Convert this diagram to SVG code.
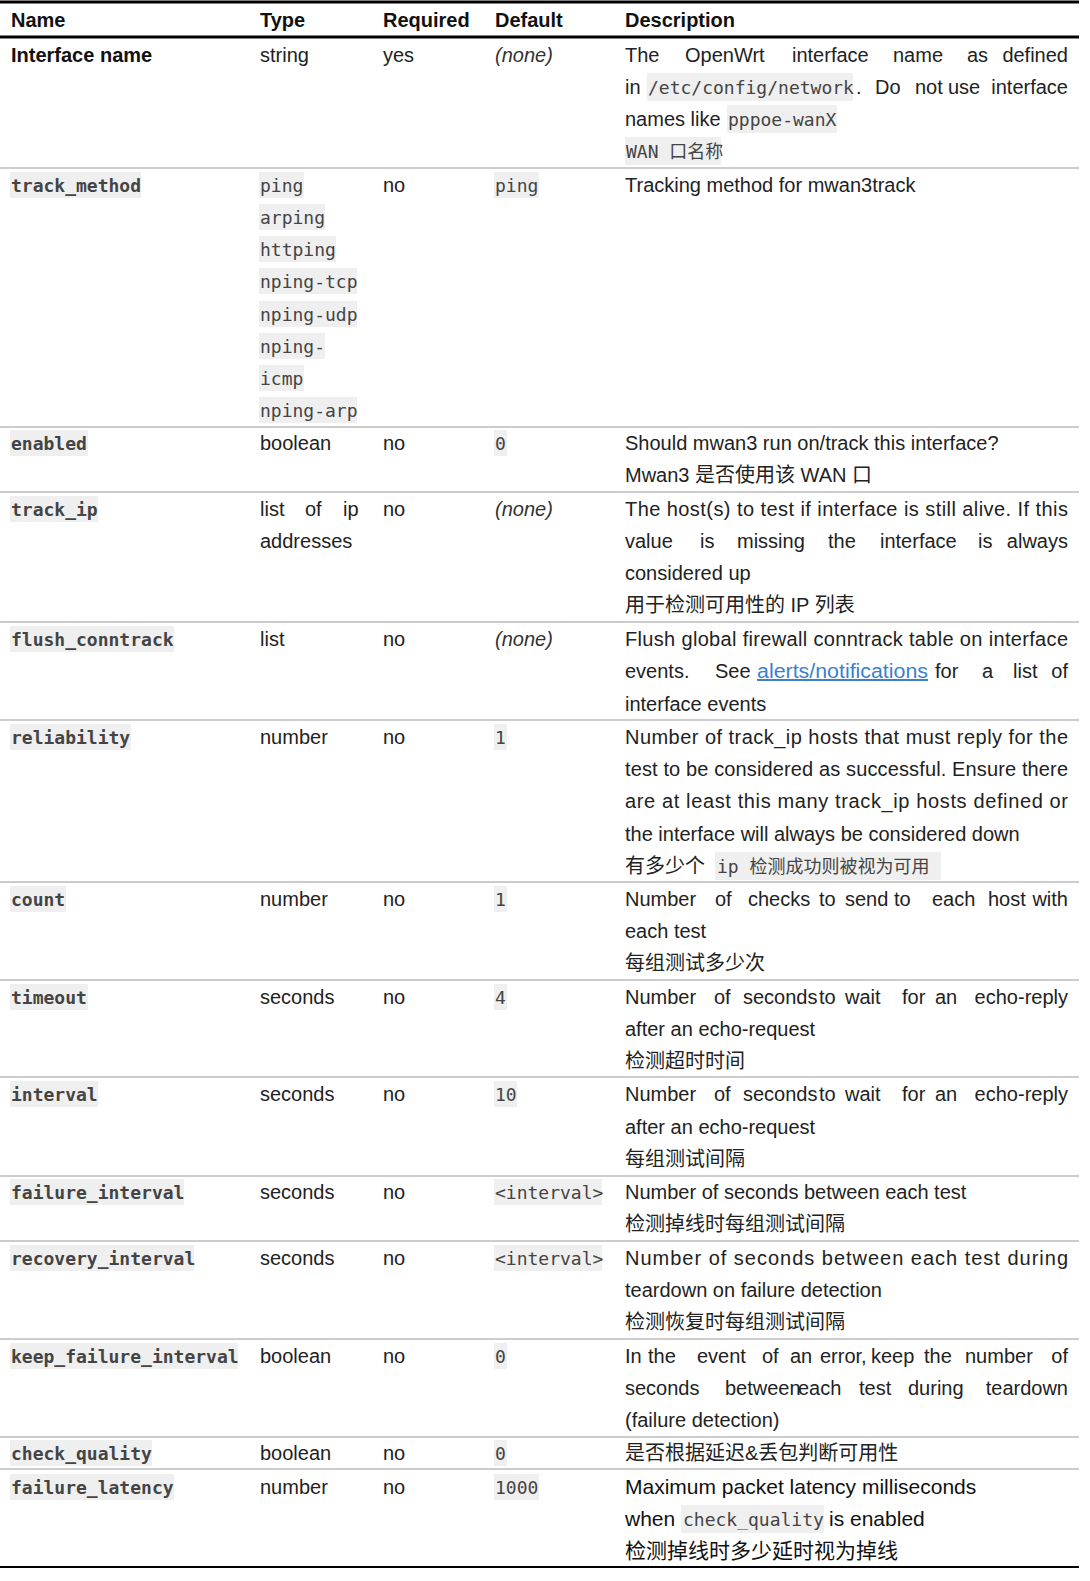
<svg xmlns="http://www.w3.org/2000/svg" width="1090" height="1581" viewBox="0 0 1090 1581">
<style>
text{font-family:"Liberation Sans","Noto Sans CJK SC",sans-serif;font-size:20px;fill:#222}
.h{font-weight:bold;font-size:20px;fill:#111}
.b{font-weight:bold;fill:#111}
.i{font-style:italic;fill:#333}
.e{text-anchor:end}
.c{font-family:"DejaVu Sans Mono","Liberation Mono","Noto Sans CJK SC",monospace;font-size:18px;fill:#444}
.cb{font-family:"DejaVu Sans Mono","Liberation Mono",monospace;font-size:18px;fill:#444;font-weight:bold}
.chip{fill:#efefef}
.sep{stroke:#999;stroke-width:1}
.lk{fill:#3b7fd0;text-decoration:underline}
.fl{fill:#111;font-size:21px}
</style>
<rect width="1090" height="1581" fill="#fff"/>
<g id="grid">
<line x1="0" y1="2" x2="1079" y2="2" stroke="#000" stroke-width="3"/>
<line x1="0" y1="37" x2="1079" y2="37" stroke="#000" stroke-width="3"/>
<line class="sep" x1="0" y1="168" x2="1079" y2="168"/>
<line class="sep" x1="0" y1="427" x2="1079" y2="427"/>
<line class="sep" x1="0" y1="492" x2="1079" y2="492"/>
<line class="sep" x1="0" y1="622" x2="1079" y2="622"/>
<line class="sep" x1="0" y1="720" x2="1079" y2="720"/>
<line class="sep" x1="0" y1="882" x2="1079" y2="882"/>
<line class="sep" x1="0" y1="980" x2="1079" y2="980"/>
<line class="sep" x1="0" y1="1077" x2="1079" y2="1077"/>
<line class="sep" x1="0" y1="1176" x2="1079" y2="1176"/>
<line class="sep" x1="0" y1="1241" x2="1079" y2="1241"/>
<line class="sep" x1="0" y1="1339" x2="1079" y2="1339"/>
<line class="sep" x1="0" y1="1437" x2="1079" y2="1437"/>
<line class="sep" x1="0" y1="1469" x2="1079" y2="1469"/>
<line x1="0" y1="1567" x2="1079" y2="1567" stroke="#000" stroke-width="2"/>
</g>
<g id="header">
<text class="h" x="11" y="27">Name</text>
<text class="h" x="260" y="27">Type</text>
<text class="h" x="383" y="27">Required</text>
<text class="h" x="495" y="27">Default</text>
<text class="h" x="625" y="27">Description</text>
</g>
<g id="row-interface">
<text class="b" x="11" y="62">Interface name</text>
<text x="260" y="62">string</text>
<text x="383" y="62">yes</text>
<text class="i" x="495" y="62">(none)</text>
<text x="625" y="62">The</text><text x="685" y="62">OpenWrt</text><text x="792" y="62">interface</text><text x="893" y="62">name</text><text x="967" y="62">as</text><text class="e" x="1068" y="62">defined</text>
<text x="625" y="94">in</text>
<rect class="chip" x="647" y="73" width="206" height="28"/>
<text class="c" x="648" y="94">/etc/config/network</text>
<text x="856" y="94">.</text><text x="875" y="94">Do</text><text x="915" y="94">not</text><text x="948" y="94">use</text><text class="e" x="1068" y="94">interface</text>
<text x="625" y="126">names like</text>
<rect class="chip" x="727" y="105" width="110" height="28"/>
<text class="c" x="728" y="126">pppoe-wanX</text>
<rect class="chip" x="625" y="137" width="96" height="28"/>
<text class="c" x="626" y="158">WAN 口名称</text>
</g>
<g id="row-track_method">
<rect class="chip" x="10" y="172" width="131" height="26"/><text class="cb" x="11" y="192">track_method</text>
<rect class="chip" x="259" y="172" width="45" height="26"/><text class="c" x="260" y="192">ping</text>
<rect class="chip" x="259" y="204" width="66" height="26"/><text class="c" x="260" y="224">arping</text>
<rect class="chip" x="259" y="236" width="77" height="26"/><text class="c" x="260" y="256">httping</text>
<rect class="chip" x="259" y="268" width="98" height="26"/><text class="c" x="260" y="288">nping-tcp</text>
<rect class="chip" x="259" y="301" width="98" height="26"/><text class="c" x="260" y="321">nping-udp</text>
<rect class="chip" x="259" y="333" width="66" height="26"/><text class="c" x="260" y="353">nping-</text>
<rect class="chip" x="259" y="365" width="45" height="26"/><text class="c" x="260" y="385">icmp</text>
<rect class="chip" x="259" y="397" width="98" height="26"/><text class="c" x="260" y="417">nping-arp</text>
<text x="383" y="192">no</text>
<rect class="chip" x="494" y="172" width="45" height="26"/><text class="c" x="495" y="192">ping</text>
<text x="625" y="192">Tracking method for mwan3track</text>
</g>
<g id="row-enabled">
<rect class="chip" x="10" y="430" width="78" height="26"/><text class="cb" x="11" y="450">enabled</text>
<text x="260" y="450">boolean</text>
<text x="383" y="450">no</text>
<rect class="chip" x="494" y="430" width="13" height="26"/><text class="c" x="495" y="450">0</text>
<text x="625" y="450">Should mwan3 run on/track this interface?</text>
<text x="625" y="482">Mwan3 是否使用该 WAN 口</text>
</g>
<g id="row-track_ip">
<rect class="chip" x="10" y="496" width="88" height="26"/><text class="cb" x="11" y="516">track_ip</text>
<text x="260" y="516">list</text><text x="305" y="516">of</text><text x="343" y="516">ip</text>
<text x="260" y="548">addresses</text>
<text x="383" y="516">no</text>
<text class="i" x="495" y="516">(none)</text>
<text x="625" y="516" textLength="443" lengthAdjust="spacing">The host(s) to test if interface is still alive. If this</text>
<text x="625" y="548">value</text><text x="700" y="548">is</text><text x="737" y="548">missing</text><text x="828" y="548">the</text><text x="880" y="548">interface</text><text x="978" y="548">is</text><text class="e" x="1068" y="548">always</text>
<text x="625" y="580">considered up</text>
<text x="625" y="612">用于检测可用性的 IP 列表</text>
</g>
<g id="row-flush_conntrack">
<rect class="chip" x="10" y="626" width="164" height="26"/><text class="cb" x="11" y="646">flush_conntrack</text>
<text x="260" y="646">list</text>
<text x="383" y="646">no</text>
<text class="i" x="495" y="646">(none)</text>
<text x="625" y="646" textLength="443" lengthAdjust="spacing">Flush global firewall conntrack table on interface</text>
<text x="625" y="678">events.</text><text x="715" y="678">See</text>
<text class="lk" x="757" y="678" textLength="171" lengthAdjust="spacingAndGlyphs">alerts/notifications</text>
<text x="935" y="678">for</text><text x="982" y="678">a</text><text x="1013" y="678">list</text><text class="e" x="1068" y="678">of</text>
<text x="625" y="711">interface events</text>
</g>
<g id="row-reliability">
<rect class="chip" x="10" y="724" width="121" height="26"/><text class="cb" x="11" y="744">reliability</text>
<text x="260" y="744">number</text>
<text x="383" y="744">no</text>
<rect class="chip" x="494" y="724" width="13" height="26"/><text class="c" x="495" y="744">1</text>
<text x="625" y="744" textLength="443" lengthAdjust="spacing">Number of track_ip hosts that must reply for the</text>
<text x="625" y="776" textLength="443" lengthAdjust="spacing">test to be considered as successful. Ensure there</text>
<text x="625" y="808" textLength="443" lengthAdjust="spacing">are at least this many track_ip hosts defined or</text>
<text x="625" y="841">the interface will always be considered down</text>
<text x="625" y="873">有多少个</text>
<rect class="chip" x="715" y="852" width="226" height="28"/>
<text class="c" x="717" y="873">ip 检测成功则被视为可用</text>
</g>
<g id="row-count">
<rect class="chip" x="10" y="886" width="56" height="26"/><text class="cb" x="11" y="906">count</text>
<text x="260" y="906">number</text>
<text x="383" y="906">no</text>
<rect class="chip" x="494" y="886" width="13" height="26"/><text class="c" x="495" y="906">1</text>
<text x="625" y="906">Number</text><text x="715" y="906">of</text><text x="748" y="906">checks</text><text x="819" y="906">to</text><text x="845" y="906">send</text><text x="894" y="906">to</text><text x="932" y="906">each</text><text x="988" y="906">host</text><text class="e" x="1068" y="906">with</text>
<text x="625" y="938">each test</text>
<text x="625" y="970">每组测试多少次</text>
</g>
<g id="row-timeout">
<rect class="chip" x="10" y="984" width="78" height="26"/><text class="cb" x="11" y="1004">timeout</text>
<text x="260" y="1004">seconds</text>
<text x="383" y="1004">no</text>
<rect class="chip" x="494" y="984" width="13" height="26"/><text class="c" x="495" y="1004">4</text>
<text x="625" y="1004">Number</text><text x="714" y="1004">of</text><text x="743" y="1004">seconds</text><text x="819" y="1004">to</text><text x="845" y="1004">wait</text><text x="902" y="1004">for</text><text x="935" y="1004">an</text><text class="e" x="1068" y="1004">echo-reply</text>
<text x="625" y="1036">after an echo-request</text>
<text x="625" y="1068">检测超时时间</text>
</g>
<g id="row-interval">
<rect class="chip" x="10" y="1081" width="88" height="26"/><text class="cb" x="11" y="1101">interval</text>
<text x="260" y="1101">seconds</text>
<text x="383" y="1101">no</text>
<rect class="chip" x="494" y="1081" width="23" height="26"/><text class="c" x="495" y="1101">10</text>
<text x="625" y="1101">Number</text><text x="714" y="1101">of</text><text x="743" y="1101">seconds</text><text x="819" y="1101">to</text><text x="845" y="1101">wait</text><text x="902" y="1101">for</text><text x="935" y="1101">an</text><text class="e" x="1068" y="1101">echo-reply</text>
<text x="625" y="1134">after an echo-request</text>
<text x="625" y="1166">每组测试间隔</text>
</g>
<g id="row-failure_interval">
<rect class="chip" x="10" y="1179" width="174" height="26"/><text class="cb" x="11" y="1199">failure_interval</text>
<text x="260" y="1199">seconds</text>
<text x="383" y="1199">no</text>
<rect class="chip" x="494" y="1179" width="108" height="26"/><text class="c" x="495" y="1199">&lt;interval&gt;</text>
<text x="625" y="1199">Number of seconds between each test</text>
<text x="625" y="1231">检测掉线时每组测试间隔</text>
</g>
<g id="row-recovery_interval">
<rect class="chip" x="10" y="1245" width="184" height="26"/><text class="cb" x="11" y="1265">recovery_interval</text>
<text x="260" y="1265">seconds</text>
<text x="383" y="1265">no</text>
<rect class="chip" x="494" y="1245" width="108" height="26"/><text class="c" x="495" y="1265">&lt;interval&gt;</text>
<text x="625" y="1265" textLength="443" lengthAdjust="spacing">Number of seconds between each test during</text>
<text x="625" y="1297">teardown on failure detection</text>
<text x="625" y="1329">检测恢复时每组测试间隔</text>
</g>
<g id="row-keep_failure_interval">
<rect class="chip" x="10" y="1343" width="228" height="26"/><text class="cb" x="11" y="1363">keep_failure_interval</text>
<text x="260" y="1363">boolean</text>
<text x="383" y="1363">no</text>
<rect class="chip" x="494" y="1343" width="13" height="26"/><text class="c" x="495" y="1363">0</text>
<text x="625" y="1363">In</text><text x="648" y="1363">the</text><text x="697" y="1363">event</text><text x="762" y="1363">of</text><text x="790" y="1363">an</text><text x="820" y="1363">error,</text><text x="871" y="1363">keep</text><text x="924" y="1363">the</text><text x="965" y="1363">number</text><text class="e" x="1068" y="1363">of</text>
<text x="625" y="1395">seconds</text><text x="725" y="1395">between</text><text x="798" y="1395">each</text><text x="859" y="1395">test</text><text x="908" y="1395">during</text><text class="e" x="1068" y="1395">teardown</text>
<text x="625" y="1427">(failure detection)</text>
</g>
<g id="row-check_quality">
<rect class="chip" x="10" y="1440" width="142" height="26"/><text class="cb" x="11" y="1460">check_quality</text>
<text x="260" y="1460">boolean</text>
<text x="383" y="1460">no</text>
<rect class="chip" x="494" y="1440" width="13" height="26"/><text class="c" x="495" y="1460">0</text>
<text x="625" y="1460">是否根据延迟&amp;丢包判断可用性</text>
</g>
<g id="row-failure_latency">
<rect class="chip" x="10" y="1474" width="164" height="26"/><text class="cb" x="11" y="1494">failure_latency</text>
<text x="260" y="1494">number</text>
<text x="383" y="1494">no</text>
<rect class="chip" x="494" y="1474" width="45" height="26"/><text class="c" x="495" y="1494">1000</text>
<text class="fl" x="625" y="1494">Maximum packet latency milliseconds</text>
<text class="fl" x="625" y="1526">when</text>
<rect class="chip" x="681" y="1505" width="143" height="28"/>
<text class="c" x="683" y="1526">check_quality</text>
<text class="fl" x="829" y="1526">is enabled</text>
<text class="fl" x="625" y="1558">检测掉线时多少延时视为掉线</text>
</g>
</svg>
